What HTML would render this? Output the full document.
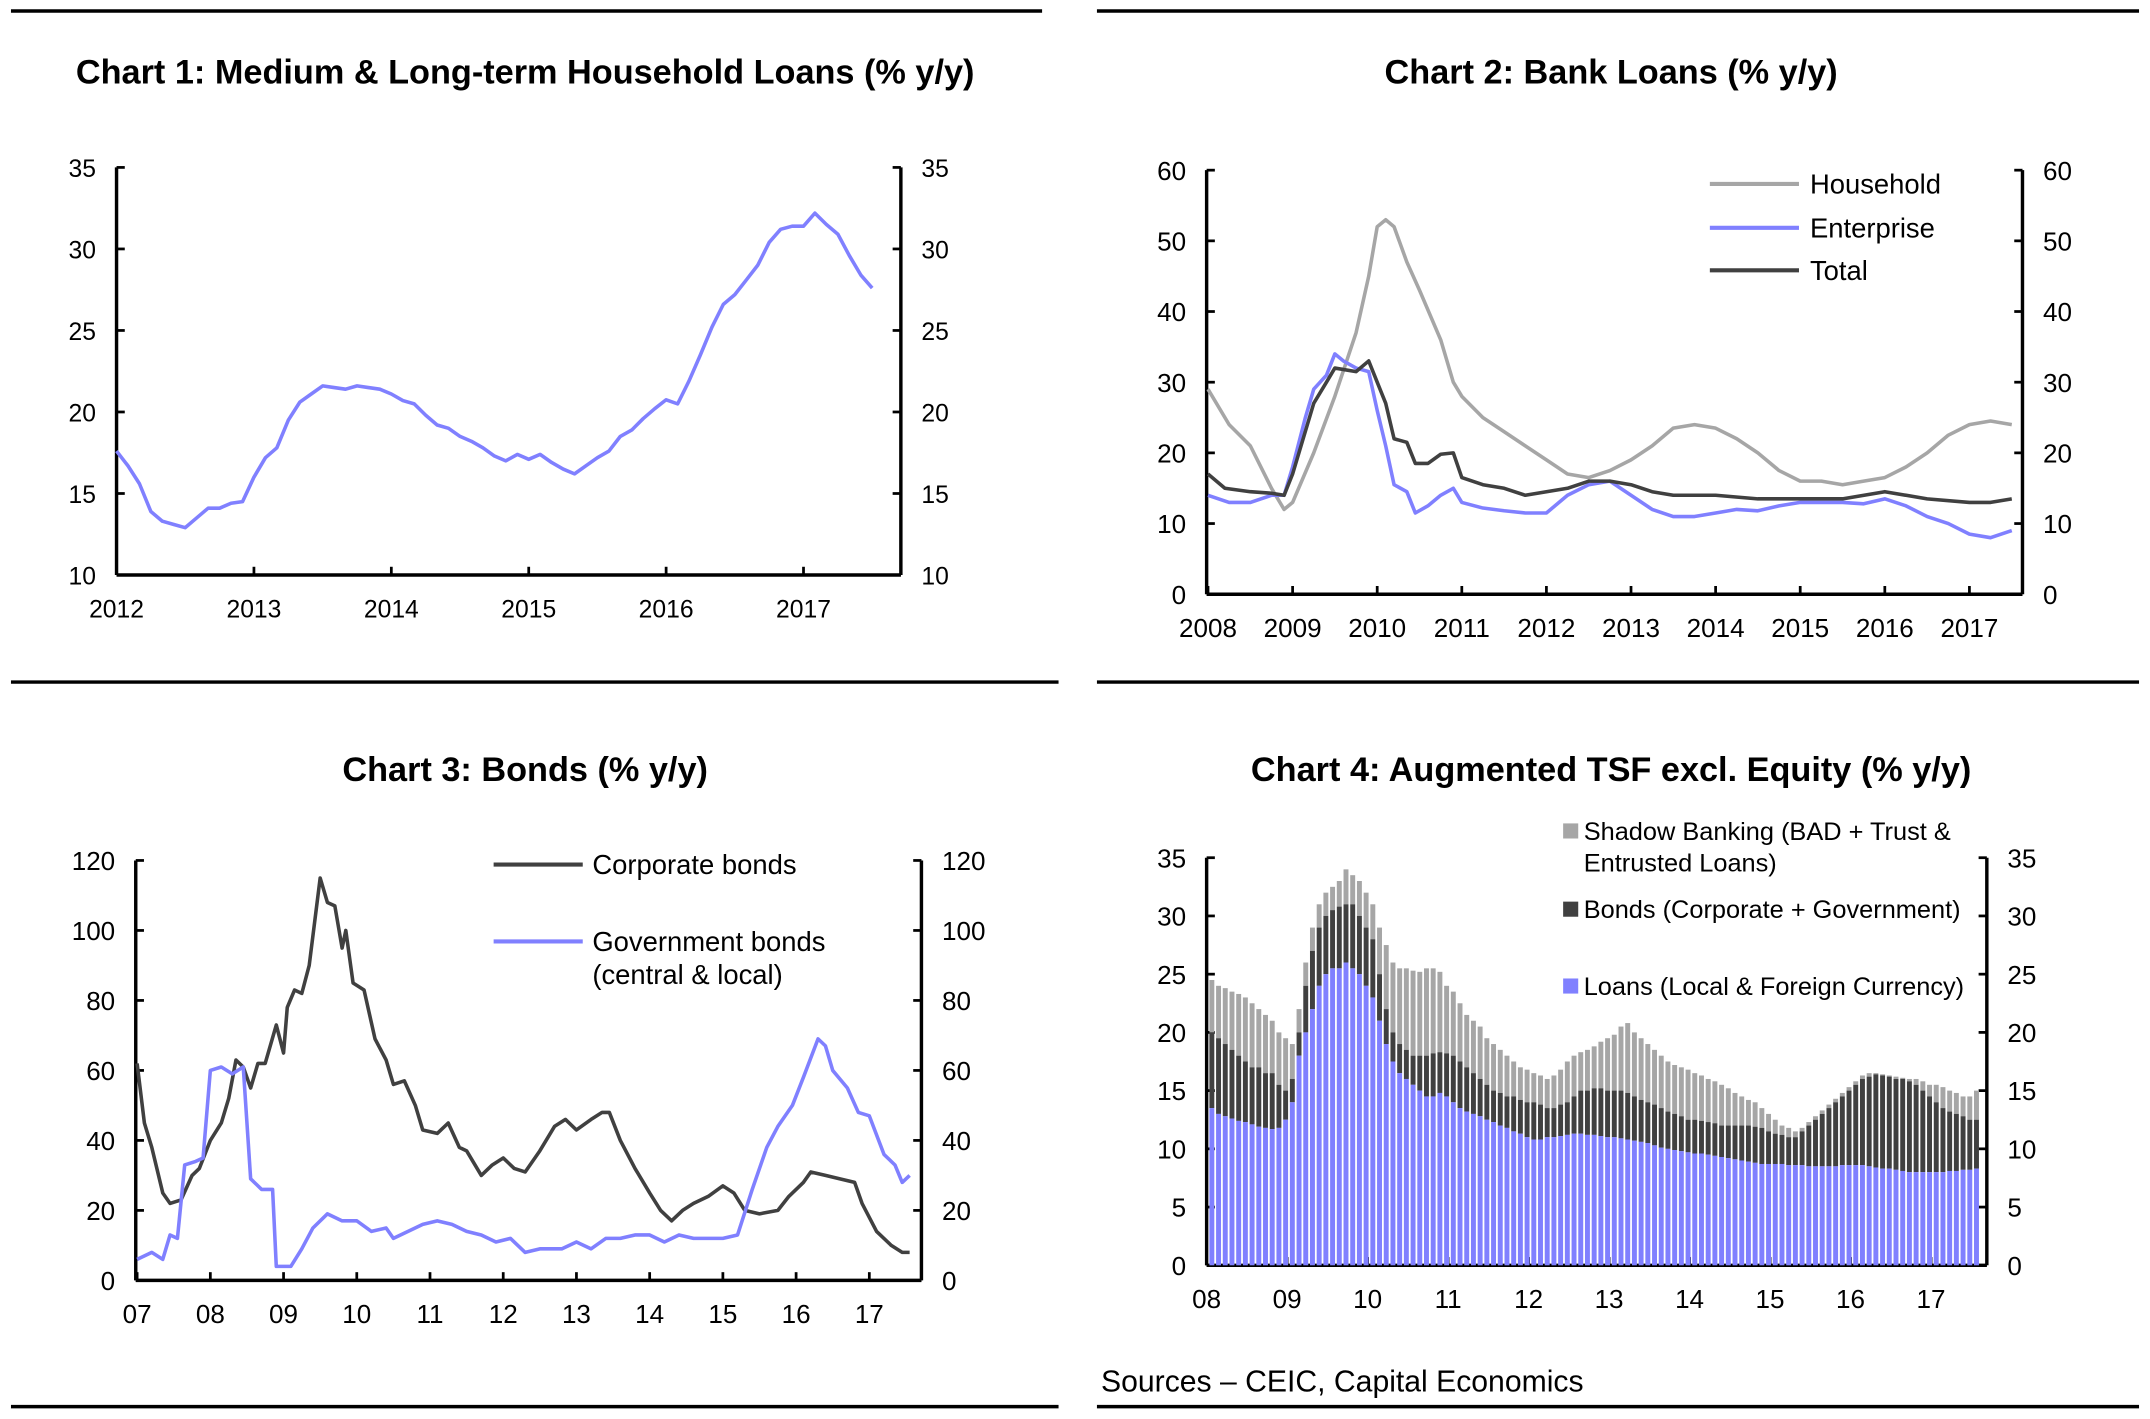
<!DOCTYPE html>
<html><head><meta charset="utf-8"><style>
html,body{margin:0;padding:0;background:#fff}
svg{display:block}
text{font-family:"Liberation Sans",sans-serif;fill:#000}
</style></head><body>
<svg id="s" width="2150" height="1419" viewBox="0 0 1568 1034" preserveAspectRatio="none" xmlns="http://www.w3.org/2000/svg">
<g stroke="#000" stroke-width="2.5">
<line x1="8" y1="8" x2="760" y2="8"/><line x1="800" y1="8" x2="1560" y2="8"/>
<line x1="8" y1="497" x2="772" y2="497"/><line x1="800" y1="497" x2="1560" y2="497"/>
<line x1="8" y1="1025" x2="772" y2="1025"/><line x1="800" y1="1025" x2="1560" y2="1025"/>
</g>
<text x="383" y="61" font-size="25" font-weight="bold" text-anchor="middle">Chart 1: Medium &amp; Long-term Household Loans (% y/y)</text>
<text x="1175" y="61" font-size="25" font-weight="bold" text-anchor="middle">Chart 2: Bank Loans (% y/y)</text>
<text x="383" y="569" font-size="25" font-weight="bold" text-anchor="middle">Chart 3: Bonds (% y/y)</text>
<text x="1175" y="569" font-size="25" font-weight="bold" text-anchor="middle">Chart 4: Augmented TSF excl. Equity (% y/y)</text>
<text x="803" y="1014" font-size="22">Sources – CEIC, Capital Economics</text>
</svg>
<script>
// Chart 1 data (monthly from Jan 2012)
const c1Values=[17.6,16.7,15.6,13.9,13.3,13.1,12.9,13.5,14.1,14.1,14.4,14.5,
16.0,17.2,17.8,19.5,20.6,21.1,21.6,21.5,21.4,21.6,21.5,21.4,
21.1,20.7,20.5,19.8,19.2,19.0,18.5,18.2,17.8,17.3,17.0,17.4,
17.1,17.4,16.9,16.5,16.2,16.7,17.2,17.6,18.5,18.9,19.6,20.2,
20.75,20.5,21.9,23.5,25.2,26.6,27.2,28.1,29.0,30.4,31.2,31.4,
31.4,32.2,31.5,30.9,29.6,28.4,27.6];
const c1YTicks=[10,15,20,25,30,35];
const c1XTicks=["2012","2013","2014","2015","2016","2017"];
// Chart 2 data
const c2HhDates=[2008,2008.25,2008.5,2008.75,2008.9,2009,2009.25,2009.5,2009.75,2009.9,2010,2010.1,2010.2,2010.35,2010.5,2010.75,2010.9,2011,2011.25,2011.5,2011.75,2012,2012.25,2012.5,2012.75,2013,2013.25,2013.5,2013.75,2014,2014.25,2014.5,2014.75,2015,2015.25,2015.5,2015.75,2016,2016.25,2016.5,2016.75,2017,2017.25,2017.5];
const c2Household=[29,24,21,15,12,13,20,28,37,45,52,53,52,47,43,36,30,28,25,23,21,19,17,16.5,17.5,19,21,23.5,24,23.5,22,20,17.5,16,16,15.5,16,16.5,18,20,22.5,24,24.5,24];
const c2EnDates=[2008,2008.25,2008.5,2008.75,2008.9,2009,2009.15,2009.25,2009.4,2009.5,2009.6,2009.75,2009.9,2010,2010.1,2010.2,2010.35,2010.45,2010.6,2010.75,2010.9,2011,2011.25,2011.5,2011.75,2012,2012.25,2012.5,2012.75,2013,2013.25,2013.5,2013.75,2014,2014.25,2014.5,2014.75,2015,2015.25,2015.5,2015.75,2016,2016.25,2016.5,2016.75,2017,2017.25,2017.5];
const c2Enterprise=[14,13,13,14,14,18,25,29,31,34,33,32,31.5,26,21,15.5,14.5,11.5,12.5,14,15,13,12.2,11.8,11.5,11.5,14,15.5,16,14,12,11,11,11.5,12,11.8,12.5,13,13,13,12.8,13.5,12.5,11,10,8.5,8,9];
const c2ToDates=[2008,2008.2,2008.5,2008.75,2008.9,2009,2009.25,2009.4,2009.5,2009.75,2009.9,2010,2010.1,2010.2,2010.35,2010.45,2010.6,2010.75,2010.9,2011,2011.25,2011.5,2011.75,2012,2012.25,2012.5,2012.75,2013,2013.25,2013.5,2014,2014.5,2015,2015.5,2016,2016.5,2017,2017.25,2017.5];
const c2Total=[17,15,14.5,14.3,14,17,27,30,32,31.5,33,30,27,22,21.5,18.5,18.5,19.8,20,16.5,15.5,15,14,14.5,15,16,16,15.5,14.5,14,14,13.5,13.5,13.5,14.5,13.5,13,13,13.5];
const c2YTicks=[0,10,20,30,40,50,60];
const c2XTicks=["2008","2009","2010","2011","2012","2013","2014","2015","2016","2017"];
// Chart 3 data
const c3CoDates=[2007,2007.1,2007.2,2007.35,2007.45,2007.6,2007.75,2007.85,2008,2008.15,2008.25,2008.35,2008.45,2008.55,2008.65,2008.75,2008.9,2009,2009.05,2009.15,2009.25,2009.35,2009.5,2009.6,2009.7,2009.8,2009.85,2009.95,2010.1,2010.25,2010.4,2010.5,2010.65,2010.8,2010.9,2011.1,2011.25,2011.4,2011.5,2011.7,2011.85,2012,2012.15,2012.3,2012.5,2012.7,2012.85,2013,2013.2,2013.35,2013.45,2013.6,2013.8,2014,2014.15,2014.3,2014.45,2014.6,2014.8,2015,2015.15,2015.3,2015.5,2015.75,2015.9,2016.1,2016.2,2016.4,2016.6,2016.8,2016.9,2017.1,2017.3,2017.45,2017.55];
const c3Corporate=[62,45,38,25,22,23,30,32,40,45,52,63,61,55,62,62,73,65,78,83,82,90,115,108,107,95,100,85,83,69,63,56,57,50,43,42,45,38,37,30,33,35,32,31,37,44,46,43,46,48,48,40,32,25,20,17,20,22,24,27,25,20,19,20,24,28,31,30,29,28,22,14,10,8,8];
const c3GoDates=[2007,2007.2,2007.35,2007.45,2007.55,2007.65,2007.8,2007.9,2008,2008.15,2008.3,2008.45,2008.55,2008.7,2008.85,2008.9,2009.1,2009.25,2009.4,2009.6,2009.8,2010,2010.2,2010.4,2010.5,2010.7,2010.9,2011.1,2011.3,2011.5,2011.7,2011.9,2012.1,2012.3,2012.5,2012.8,2013,2013.2,2013.4,2013.6,2013.8,2014,2014.2,2014.4,2014.6,2014.8,2015,2015.2,2015.4,2015.6,2015.75,2015.95,2016.1,2016.3,2016.4,2016.5,2016.7,2016.85,2017,2017.2,2017.35,2017.45,2017.55];
const c3Government=[6,8,6,13,12,33,34,35,60,61,59,61,29,26,26,4,4,9,15,19,17,17,14,15,12,14,16,17,16,14,13,11,12,8,9,9,11,9,12,12,13,13,11,13,12,12,12,13,26,38,44,50,58,69,67,60,55,48,47,36,33,28,30];
const c3YTicks=[0,20,40,60,80,100,120];
const c3XTicks=["07","08","09","10","11","12","13","14","15","16","17"];
// Chart 4 data (monthly from Jan 2008; cumulative stack tops)
const c4Loans=[13.5,13,12.8,12.6,12.4,12.3,12.1,11.9,11.8,11.7,11.8,12.5,
14,18,20,22,24,25,25.5,25.5,26,25.5,25,24,
23,21,19,17.5,16.5,16,15.5,15,14.5,14.5,14.8,14.5,
14,13.5,13.2,13,12.8,12.5,12.3,12,11.8,11.5,11.3,11,
10.8,10.8,11,11,11.1,11.2,11.3,11.3,11.2,11.2,11.1,11,
11,10.9,10.8,10.7,10.6,10.5,10.3,10.1,10,9.9,9.8,9.7,
9.6,9.6,9.5,9.4,9.3,9.2,9.1,9,8.9,8.8,8.7,8.7,
8.7,8.7,8.6,8.6,8.6,8.5,8.5,8.5,8.5,8.5,8.6,8.6,
8.6,8.6,8.5,8.4,8.3,8.3,8.2,8.1,8,8,8,8,
8,8,8.1,8.1,8.2,8.2,8.3];
const c4LoansBonds=[20,19.5,19,18.5,18,17.5,17,17,16.5,16.5,15.5,15,
16,20,24,27,29,30,30.5,30.8,31,31,30,29,
28,25,22,20,19,18.5,18,18,18,18.2,18.3,18.2,
18,17.5,17,16.5,16,15.5,15,14.8,14.5,14.5,14.2,14,
14,13.8,13.5,13.5,13.8,14,14.5,15,15,15.2,15.2,15,
15,15,14.8,14.5,14.2,14,13.8,13.5,13.2,13,12.8,12.5,
12.5,12.4,12.3,12.2,12,12,12,12,12,11.9,11.8,11.5,
11.3,11.2,11,11,11.5,12,12.5,13,13.5,14,14.5,15,
15.5,16,16.2,16.4,16.3,16.2,16,16,15.8,15.5,15,14.5,
14,13.5,13.2,13,12.8,12.5,12.5];
const c4Total=[24.5,24,23.8,23.5,23.3,23,22.5,22,21.5,21,20,19.5,
19,22,26,29,31,32,32.5,33,34,33.5,33,32,
31,29,27.5,26,25.5,25.5,25.3,25.2,25.5,25.5,25.2,24,
23.5,22.5,21.5,21,20.5,19.5,19,18.5,18,17.5,17,16.8,
16.5,16.3,16,16.3,16.8,17.5,18,18.3,18.5,18.8,19.2,19.5,
19.8,20.5,20.8,20,19.5,19,18.5,18,17.5,17.2,17,16.8,
16.5,16.3,16,15.8,15.5,15.2,14.8,14.5,14.2,14,13.5,13,
12.5,12,11.8,11.5,11.8,12.3,12.8,13.3,13.8,14.3,14.8,15.3,
15.8,16.3,16.5,16.5,16.4,16.3,16.2,16.1,16,16,15.8,15.5,
15.5,15.3,15,14.8,14.5,14.5,15];
const c4YTicks=[0,5,10,15,20,25,30,35];
const c4XTicks=["08","09","10","11","12","13","14","15","16","17"];

const NS="http://www.w3.org/2000/svg";
const svg=document.getElementById('s');
function mk(tag,attrs,parent){const e=document.createElementNS(NS,tag);for(const k in attrs)e.setAttribute(k,attrs[k]);(parent||svg).appendChild(e);return e;}
const BLUE="#8080ff",GREY="#a6a6a6",DARK="#404040";

function axes(name,L,R,T,B,yMin,yMax,yTicks,xTicks,xStart,x0,dx,fs){
  const g=mk('g',{});
  
  
  const y=v=>B-(v-yMin)/(yMax-yMin)*(B-T);
  mk('line',{x1:L,y1:T,x2:L,y2:B,stroke:'#000','stroke-width':2.5},g);
  mk('line',{x1:R,y1:T,x2:R,y2:B,stroke:'#000','stroke-width':2.5},g);
  mk('line',{x1:L,y1:B,x2:R,y2:B,stroke:'#000','stroke-width':2.5},g);
  yTicks.forEach(v=>{
    mk('line',{x1:L,y1:y(v),x2:L+6,y2:y(v),stroke:'#000','stroke-width':2},g);
    mk('line',{x1:R,y1:y(v),x2:R-6,y2:y(v),stroke:'#000','stroke-width':2},g);
    const t1=mk('text',{x:L-15,y:y(v)+7,'font-size':fs,'text-anchor':'end'},g);t1.textContent=v;
    
    const t2=mk('text',{x:R+15,y:y(v)+7,'font-size':fs},g);t2.textContent=v;
    
  });
  xTicks.forEach((lab,i)=>{
    const xx=x0+i*dx;
    mk('line',{x1:xx,y1:B,x2:xx,y2:B-6,stroke:'#000','stroke-width':2},g);
    const t=mk('text',{x:xx,y:B+31,'font-size':fs,'text-anchor':'middle'},g);t.textContent=lab;
    
  });
  return y;
}
function line(name,xs,ys,xf,yf,color,w){
  const p=mk('polyline',{points:xs.map((x,i)=>xf(x).toFixed(1)+','+yf(ys[i]).toFixed(1)).join(' '),fill:'none',stroke:color,'stroke-width':w||2.6,'stroke-linejoin':'round'});
  
  
}
function legendLine(name,x1,x2,y,color,label,tx,fs){
  const g=mk('g',{});
  
  
  mk('line',{x1:x1,y1:y,x2:x2,y2:y,stroke:color,'stroke-width':3},g);
  if(label){const t=mk('text',{x:tx,y:y+7,'font-size':fs},g);t.textContent=label;}
}

// Chart 1
{
  const y=axes('chart1',85,657,122,419,10,35,c1YTicks,c1XTicks,2012,85,100.2,18);
  const idx=c1Values.map((v,i)=>i);
  line('household-loans-line',idx,c1Values,i=>85+i*100.2/12,y,BLUE);
}
// Chart 2
{
  const y=axes('chart2',880,1475,124,433,0,60,c2YTicks,c2XTicks,2008,881,61.7,19);
  const xf=d=>881+(d-2008)*61.7;
  line('household-line',c2HhDates,c2Household,xf,y,GREY);
  line('enterprise-line',c2EnDates,c2Enterprise,xf,y,BLUE);
  line('total-line',c2ToDates,c2Total,xf,y,DARK);
  legendLine('legend-household',1247,1312,134,GREY,'Household',1320,20);
  legendLine('legend-enterprise',1247,1312,166,BLUE,'Enterprise',1320,20);
  legendLine('legend-total',1247,1312,197,DARK,'Total',1320,20);
}
// Chart 3
{
  const y=axes('chart3',99,672,627,933,0,120,c3YTicks,c3XTicks,2007,100,53.4,19);
  const xf=d=>100+(d-2007)*53.4;
  line('corporate-bonds-line',c3CoDates,c3Corporate,xf,y,DARK);
  line('government-bonds-line',c3GoDates,c3Government,xf,y,BLUE);
  legendLine('legend-corporate',360,425,630,DARK,'Corporate bonds',432,20);
  legendLine('legend-government',360,425,686,BLUE,'Government bonds',432,20);
  const t=mk('text',{x:432,y:717,'font-size':20});t.textContent='(central & local)';
  
}
// Chart 4
{
  const y=axes('chart4',880,1449,625,922,0,35,c4YTicks,c4XTicks,2008,880,58.7,19);
  const step=58.7/12, bw=3.6;
  c4Total.forEach((tot,i)=>{
    const x=880+2+i*step;
    const r1=mk('rect',{x:x,y:y(tot),width:bw,height:y(c4LoansBonds[i])-y(tot),fill:GREY});
    
    
    const r2=mk('rect',{x:x,y:y(c4LoansBonds[i]),width:bw,height:y(c4Loans[i])-y(c4LoansBonds[i]),fill:DARK});
    
    
    const r3=mk('rect',{x:x,y:y(c4Loans[i]),width:bw,height:922-y(c4Loans[i]),fill:BLUE});
    
    
  });
  const leg=[[606,GREY,'Shadow Banking (BAD + Trust &','legend-shadow'],[663,DARK,'Bonds (Corporate + Government)','legend-bonds'],[719,BLUE,'Loans (Local & Foreign Currency)','legend-loans']];
  leg.forEach(l=>{
    const g=mk('g',{});
    
    
    mk('rect',{x:1140,y:l[0]-6,width:11,height:11,fill:l[1]},g);
    const t=mk('text',{x:1155,y:l[0]+6,'font-size':18.5},g);t.textContent=l[2];
  });
  const t=mk('text',{x:1155,y:635,'font-size':18.5});t.textContent='Entrusted Loans)';
  
}
</script>
</body></html>
